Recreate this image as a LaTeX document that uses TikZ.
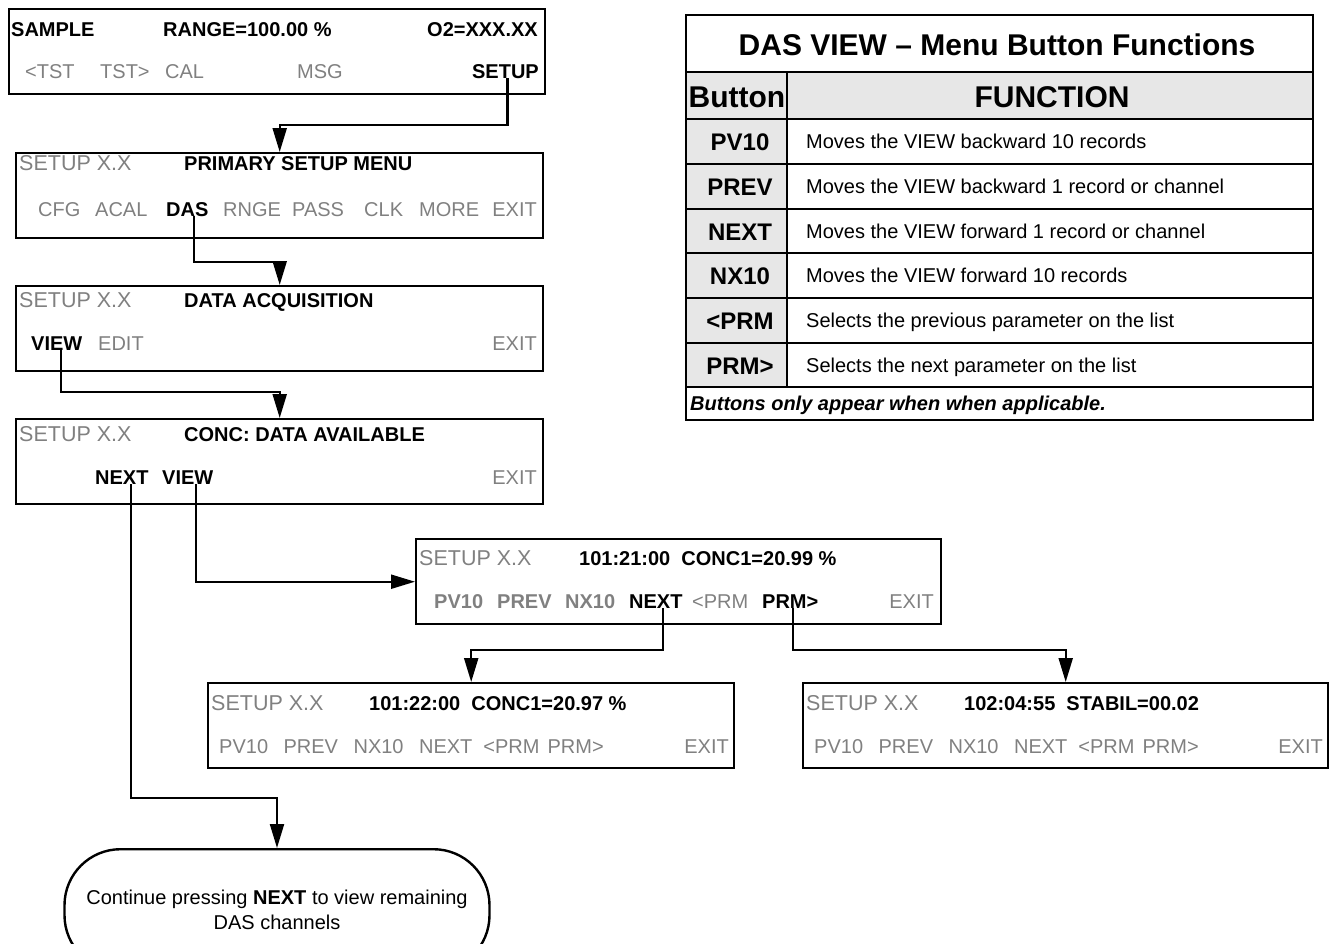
\documentclass[tikz,border=0pt]{standalone}
\usepackage{fontspec}
\setmainfont{Liberation Sans}
\usetikzlibrary{arrows.meta,calc}
\definecolor{KeyGray}{RGB}{128,128,128}
\definecolor{CellGray}{RGB}{231,231,231}
\newcommand\menufont{\fontsize{20}{24}\selectfont}
\tikzset{
  menubox/.style={draw,line width=2.4pt,anchor=north west,minimum height=85pt,inner sep=0pt},
  key/.style={inner sep=0pt,anchor=base west,font=\menufont\bfseries},
  soft/.style={inner sep=0pt,anchor=base west,text=KeyGray,font=\menufont},
  softkey/.style={key,text=KeyGray},
  mode/.style={soft,font=\fontsize{21.5}{24}\selectfont},
  flow/.style={->,line width=2.2pt},
  grid/.style={line width=1.8pt},
  btn/.style={inner sep=0pt,anchor=base,font=\fontsize{24}{28}\selectfont\bfseries},
  fn/.style={inner sep=0pt,anchor=base west,font=\menufont},
}

\begin{document}
\begin{tikzpicture}[x=1pt,y=-1pt,>={Triangle[length=24pt,width=14pt]}]
\useasboundingbox (0,0) rectangle (1335,943);

% SAMPLE display
\node[menubox,minimum width=536pt] (b1) at (8,8) {};
\node[key] (b1a) at (11,36) {SAMPLE};\node[key] (b1b) at (163,36) {RANGE=100.00 \%};\node[key,anchor=base east] (b1c) at (538,36) {O2=XXX.XX};
\node[soft] (b1d) at (25,78) {<TST};\node[soft] (b1e) at (100,78) {TST>};\node[soft] (b1f) at (165,78) {CAL};\node[soft] (b1g) at (297,78) {MSG};\node[key,anchor=base east] (setup) at (539,78) {SETUP};

% primary setup menu
\node[menubox,minimum width=527pt] (b2) at (15,152) {};
\node[mode] (b2a) at (19,170) {SETUP X.X};\node[key] (b2b) at (184,170) {PRIMARY SETUP MENU};
\node[soft] (b2c) at (38,216) {CFG};\node[soft] (b2d) at (95,216) {ACAL};\node[key] (das) at (166,216) {DAS};\node[soft] (b2e) at (223,216) {RNGE};\node[soft] (b2f) at (292,216) {PASS};\node[soft] (b2g) at (364,216) {CLK};\node[soft] (b2h) at (419,216) {MORE};\node[soft,anchor=base east] (b2i) at (537,216) {EXIT};

% data acquisition
\node[menubox,minimum width=527pt] (b3) at (15,285) {};
\node[mode] (b3a) at (19,307) {SETUP X.X};\node[key] (b3b) at (184,307) {DATA ACQUISITION};
\node[key] (view3) at (31,350) {VIEW};\node[soft] (b3c) at (98,350) {EDIT};\node[soft,anchor=base east] (b3d) at (537,350) {EXIT};

% data available
\node[menubox,minimum width=527pt] (b4) at (15,418) {};
\node[mode] (b4a) at (19,441) {SETUP X.X};\node[key] (b4b) at (184,441) {CONC: DATA AVAILABLE};
\node[key] (next4) at (95,484) {NEXT};\node[key] (view4) at (162,484) {VIEW};\node[soft,anchor=base east] (b4c) at (537,484) {EXIT};

% record view
\node[menubox,minimum width=525pt] (b5) at (415,538) {};
\node[mode] (b5a) at (419,565) {SETUP X.X};\node[key] (b5b) at (579,565) {101:21:00\ \ CONC1=20.99 \%};
\node[softkey] (b5c) at (434,608) {PV10};\node[softkey] (b5d) at (497,608) {PREV};\node[softkey] (b5e) at (565,608) {NX10};\node[key] (next5) at (629,608) {NEXT};\node[soft] (b5f) at (692,608) {<PRM};\node[key] (prm5) at (762,608) {PRM>};\node[soft,anchor=base east] (b5g) at (934,608) {EXIT};

% next record / next parameter
\node[menubox,minimum width=526pt] (b6) at (207,682) {};
\node[mode] (b6a) at (211,710) {SETUP X.X};\node[key] (b6b) at (369,710) {101:22:00\ \ CONC1=20.97 \%};
\node[soft] (b6c) at (219,753) {PV10\hspace{15.5pt}PREV\hspace{15.5pt}NX10\hspace{15.5pt}NEXT\hspace{11pt}<PRM\hspace{8pt}PRM>};\node[soft,anchor=base east] (b6d) at (729,753) {EXIT};
\node[menubox,minimum width=525pt] (b7) at (802,682) {};
\node[mode] (b7a) at (806,710) {SETUP X.X};\node[key] (b7b) at (964,710) {102:04:55\ \ STABIL=00.02};
\node[soft] (b7c) at (814,753) {PV10\hspace{15.5pt}PREV\hspace{15.5pt}NX10\hspace{15.5pt}NEXT\hspace{11pt}<PRM\hspace{8pt}PRM>};\node[soft,anchor=base east] (b7d) at (1323,753) {EXIT};

% remaining channels
\node[draw,line width=2.4pt,rounded corners=56pt,minimum width=425pt,minimum height=122pt,anchor=north,align=center,font=\fontsize{20}{25}\selectfont] (more) at (277,848) {Continue pressing \textbf{NEXT} to view remaining\\DAS channels};

% connectors
\draw[flow] ([xshift=2pt]setup.south) |- ([yshift=27pt]b2.north) -- (b2.north);
\draw[flow] ([xshift=7pt]das.south) |- ([yshift=23pt]b3.north) -- (b3.north);
\draw[flow] ([xshift=4pt]view3.south) |- ([yshift=26pt]b4.north) -- (b4.north);
\draw[flow] ([xshift=9pt]next4.south) |- ([yshift=50pt]more.north) -- (more.north);
\draw[flow] ([xshift=8pt]view4.south) |- (b5.west);
\draw[flow] ([xshift=7pt]next5.south) |- ([yshift=32pt]b6.north) -- (b6.north);
\draw[flow] ([xshift=3pt]prm5.south) |- ([yshift=32pt]b7.north) -- (b7.north);

% button table
\fill[CellGray] (686,72) rectangle (1313,119);\fill[CellGray] (686,119) rectangle (787,387);
\draw[grid] (686,72) -- (1313,72);\draw[grid] (787,72) -- (787,387);
\draw[grid] (686,119) -- (1313,119);\draw[grid] (686,164) -- (1313,164);\draw[grid] (686,209) -- (1313,209);
\draw[grid] (686,253) -- (1313,253);\draw[grid] (686,298) -- (1313,298);\draw[grid] (686,343) -- (1313,343);\draw[grid] (686,387) -- (1313,387);
\draw[line width=2.2pt] (686,15) rectangle (1313,420);
\node[inner sep=0pt,anchor=base,font=\fontsize{30}{34}\selectfont\bfseries] (ttl) at (997,55) {DAS VIEW – Menu Button Functions};
\node[inner sep=0pt,anchor=base,font=\fontsize{30}{34}\selectfont\bfseries] (hbtn) at (737,107) {Button};\node[inner sep=0pt,anchor=base,font=\fontsize{30}{34}\selectfont\bfseries] (hfn) at (1052,107) {FUNCTION};
\node[btn] (k1) at (740,150) {PV10};\node[fn] (f1) at (806,148) {Moves the VIEW backward 10 records};
\node[btn] (k2) at (740,195) {PREV};\node[fn] (f2) at (806,193) {Moves the VIEW backward 1 record or channel};
\node[btn] (k3) at (740,240) {NEXT};\node[fn] (f3) at (806,238) {Moves the VIEW forward 1 record or channel};
\node[btn] (k4) at (740,284) {NX10};\node[fn] (f4) at (806,282) {Moves the VIEW forward 10 records};
\node[btn] (k5) at (740,329) {<PRM};\node[fn] (f5) at (806,327) {Selects the previous parameter on the list};
\node[btn] (k6) at (740,374) {PRM>};\node[fn] (f6) at (806,372) {Selects the next parameter on the list};
\node[fn,font=\menufont\bfseries\itshape] (note) at (690,410) {Buttons only appear when when applicable.};
\end{tikzpicture}
\end{document}
